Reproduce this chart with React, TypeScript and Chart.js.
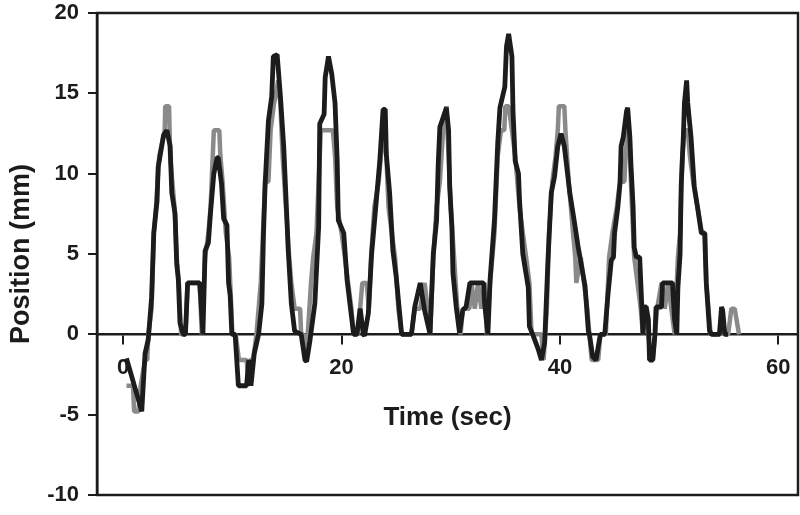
import React, { useEffect, useRef } from "react";
import { Chart, registerables } from "chart.js";

Chart.register(...registerables);

// Black trace (time in s, position in mm)
const blackTime = [
  0.3, 1.7, 2.0, 2.3, 2.6, 2.8, 3.1, 3.2, 3.7, 4.0, 4.3, 4.45, 4.75, 4.9, 5.05, 5.2, 5.5, 5.7, 5.9, 7.0,
  7.1, 7.3, 7.5, 7.8, 8.0, 8.3, 8.6, 8.7, 9.0, 9.2, 9.5, 9.65, 9.8, 9.95, 10.25, 10.55, 11.3, 11.5, 11.7, 12.0,
  12.4, 12.7, 12.85, 13.0, 13.3, 13.6, 13.75, 14.1, 14.4, 14.7, 15.0, 15.1, 15.4, 15.7, 16.3, 16.65, 16.8, 17.1, 17.55, 17.9,
  18.0, 18.4, 18.5, 18.8, 19.1, 19.4, 19.6, 19.7, 20.2, 20.5, 20.8, 21.1, 21.4, 21.7, 22.0, 22.1, 22.45, 22.75, 23.05, 23.5,
  23.8, 24.0, 24.1, 24.4, 24.7, 25.0, 25.5, 26.4, 26.7, 27.2, 27.6, 28.1, 28.4, 28.7, 28.85, 29.0, 29.3, 29.6, 29.8, 29.9,
  30.1, 30.2, 30.5, 30.8, 31.1, 31.4, 31.75, 33.0, 33.1, 33.4, 33.6, 34.0, 34.3, 34.5, 34.95, 35.1, 35.3, 35.6, 35.7, 35.9,
  36.2, 36.3, 36.6, 37.1, 37.2, 37.5, 38.0, 38.3, 38.6, 38.9, 39.2, 39.5, 39.8, 40.1, 40.4, 40.9, 41.3, 41.65, 42.3, 42.6,
  42.7, 43.0, 43.3, 43.6, 43.7, 44.1, 44.4, 44.7, 44.9, 45.0, 45.3, 45.5, 45.6, 45.8, 46.1, 46.2, 46.4, 46.5, 46.7, 46.8,
  47.0, 47.3, 47.5, 47.6, 47.75, 47.9, 48.1, 48.2, 48.5, 48.7, 48.8, 49.3, 49.4, 50.3, 50.5, 50.7, 50.8, 51.0, 51.1, 51.3,
  51.4, 51.6, 51.7, 52.0, 52.3, 52.6, 52.95, 53.25, 53.4, 53.55, 53.7, 53.9, 54.6, 54.8, 54.9, 55.1, 55.4,
];
const blackPos = [
  -1.5, -4.8, -1.2, -0.3, 2.3, 6.3, 8.3, 10.4, 12.4, 12.7, 11.7, 8.8, 7.5, 4.4, 3.4, 0.7, 0, 0, 3.2, 3.2,
  2.3, 0, 5.2, 5.7, 7.6, 10.0, 11.0, 11.0, 9.4, 7.2, 6.8, 3.2, 2.4, 0, 0, -3.2, -3.2, -1.6, -3.2, -1.2,
  0, 1.9, 6.3, 9.4, 13.3, 14.8, 17.3, 17.4, 14.8, 11.7, 7.1, 5.4, 1.9, 0.2, 0, -1.6, -1.7, -0.4, 1.9, 6.7,
  13.1, 13.7, 16.0, 17.3, 16.2, 14.4, 10.8, 7.1, 6.3, 3.4, 1.7, 0, 0, 1.6, 0, -0.1, 1.3, 5.0, 7.3, 10.8,
  14.0, 14.0, 11.2, 8.8, 5.2, 3.6, 0, 0, 1.7, 3.2, 1.5, 0, 5.0, 7.1, 10.6, 12.9, 13.5, 14.1, 12.7, 9.2,
  6.7, 3.8, 1.7, 0.1, 1.5, 1.7, 3.2, 3.2, 1.9, 0, 3.4, 7.1, 11.9, 14.1, 15.4, 17.9, 18.7, 17.3, 13.9, 10.8,
  10.0, 8.3, 5.0, 2.9, 0.5, 0, -0.9, -1.6, -0.5, 4.6, 8.8, 9.8, 11.7, 12.5, 11.7, 8.8, 7.1, 5.5, 3.0, 0.2,
  0, -1.4, -1.6, -0.4, 0, 0, 2.5, 4.6, 4.8, 6.3, 7.9, 9.4, 11.7, 12.3, 13.9, 14.1, 12.3, 10.6, 7.9, 5.4,
  4.8, 4.8, 1.7, 0, 1.7, 1.7, 0.9, -1.6, -1.6, 0, 1.7, 1.7, 3.2, 3.2, 0.9, 0, 2.9, 5.0, 9.2, 12.3,
  14.4, 15.8, 14.4, 12.3, 9.2, 7.9, 6.3, 6.3, 3.2, 1.7, 0.2, 0, 0, 1.7, 1.5, 0, 0,
];

// Gray trace (time in s, position in mm)
const grayTime = [
  0.3, 0.9, 1.0, 1.4, 1.6, 2.0, 2.2, 2.3, 2.6, 2.8, 3.0, 3.3, 3.8, 3.85, 4.2, 4.3, 4.5, 4.7, 4.9, 5.1,
  5.3, 5.7, 5.9, 7.0, 7.2, 7.5, 7.8, 8.0, 8.2, 8.3, 8.8, 8.9, 9.1, 9.4, 9.7, 9.9, 10.0, 10.3, 10.6, 11.3,
  11.5, 11.6, 11.9, 12.2, 12.6, 12.9, 13.0, 13.3, 13.5, 13.8, 14.2, 14.4, 14.6, 14.9, 15.2, 15.4, 15.7, 16.2, 16.3, 16.5,
  16.7, 16.9, 17.2, 17.4, 17.7, 17.9, 18.1, 18.5, 19.2, 19.4, 19.6, 20.0, 20.3, 20.6, 20.9, 21.1, 21.5, 21.7, 21.9, 22.3,
  22.5, 22.7, 23.0, 23.4, 23.6, 23.9, 24.1, 24.3, 24.6, 24.9, 25.2, 25.5, 26.4, 26.7, 27.2, 27.6, 27.9, 28.1, 28.4, 28.7,
  29.0, 29.3, 29.6, 29.8, 30.0, 30.3, 30.6, 30.9, 31.1, 31.7, 31.9, 32.2, 32.5, 32.8, 33.1, 33.3, 33.6, 34.0, 34.3, 34.6,
  34.9, 35.0, 35.3, 35.6, 35.9, 36.3, 36.6, 36.9, 37.2, 37.4, 38.3, 38.5, 38.8, 39.0, 39.3, 39.6, 39.8, 39.9, 40.4, 40.5,
  40.8, 41.0, 41.2, 41.4, 41.5, 41.9, 42.2, 42.5, 42.7, 42.9, 43.5, 43.7, 44.2, 44.5, 44.8, 45.2, 45.5, 45.9, 46.0, 46.2,
  46.4, 46.6, 46.8, 47.1, 47.4, 47.6, 47.8, 48.1, 48.3, 48.5, 48.7, 48.9, 49.3, 49.6, 49.9, 50.2, 50.5, 50.8, 51.0, 51.2,
  51.4, 51.7, 51.9, 52.2, 52.6, 53.0, 53.3, 53.4, 53.6, 53.8, 54.7, 54.8, 55.0, 55.4, 55.7, 56.0, 56.4,
];
const grayPos = [
  -3.2, -3.2, -4.8, -4.8, -3.2, -1.6, -1.6, 0, 1.6, 6.3, 7.9, 11.1, 12.7, 14.2, 14.2, 11.1, 9.5, 7.9, 4.8, 3.2,
  0, 0, 3.2, 3.2, 0, 4.8, 6.3, 7.9, 11.1, 12.7, 12.7, 11.1, 9.5, 6.3, 4.8, 1.6, 0, 0, -1.6, -1.6,
  -3.2, -1.6, -1.6, 0, 3.2, 7.9, 9.5, 9.5, 12.7, 14.3, 15.8, 14.3, 11.1, 7.9, 4.8, 3.2, 1.6, 1.6, 0, 0,
  -1.6, 0, 3.2, 4.8, 6.3, 9.5, 12.7, 12.7, 12.7, 11.1, 7.9, 6.3, 4.8, 3.2, 1.6, 0, 0, 1.6, 3.2, 3.2,
  1.6, 4.8, 7.9, 9.5, 11.1, 12.7, 11.1, 7.9, 6.3, 4.8, 1.6, 0, 0, 1.6, 1.6, 3.2, 1.6, 0, 4.8, 7.9,
  9.5, 12.7, 14.2, 11.1, 7.9, 4.8, 1.6, 0, 1.6, 1.6, 3.2, 1.6, 3.2, 1.6, 3.2, 0, 3.2, 6.3, 11.1, 12.7,
  12.7, 14.2, 14.2, 12.7, 11.1, 7.9, 6.3, 4.8, 3.2, 0, 0, -1.6, 1.6, 6.3, 9.5, 11.1, 12.7, 14.2, 14.2, 12.7,
  9.5, 7.9, 6.3, 4.8, 3.2, 4.8, 3.2, 1.6, 0, -1.6, -1.6, 0, 0, 4.8, 6.3, 7.9, 9.5, 9.5, 11.1, 12.7,
  11.1, 7.9, 4.8, 3.2, 1.6, 0, 1.6, 0, -1.6, -1.6, 0, 1.6, 3.2, 1.6, 3.2, 1.6, 0, 4.8, 6.3, 11.1,
  12.7, 12.7, 11.1, 9.5, 7.9, 6.3, 6.3, 3.2, 1.6, 0, 0, 1.6, 0, 0, 1.6, 1.6, 0,
];

const xTickValues = [0, 20, 40, 60];
const yTickValues = [-10, -5, 0, 5, 10, 15, 20];

const INK = "#1c1c1c";
const GRAY = "#8a8a8a";
const TICK_FAMILY = "'Liberation Sans', Arial, sans-serif";
const TITLE_FAMILY = "'Liberation Sans', Arial, sans-serif";

export default function App() {
  const ref = useRef<HTMLCanvasElement | null>(null);

  useEffect(() => {
    document.body.style.margin = "0";
    const canvas = ref.current;
    if (!canvas) return;

    const framePlugin = {
      id: "frame",
      afterDatasetsDraw(chart: any) {
        const { ctx, chartArea: a } = chart;
        ctx.save();
        ctx.strokeStyle = INK;
        ctx.lineWidth = 2.5;
        ctx.strokeRect(a.left, a.top, a.right - a.left, a.bottom - a.top);
        ctx.restore();
      },
    };

    const chart = new Chart(canvas, {
      type: "line",
      data: {
        datasets: [
          {
            label: "Gray",
            data: grayTime.map((t, i) => ({ x: t, y: grayPos[i] })),
            borderColor: GRAY,
            borderWidth: 4.5,
            pointRadius: 0,
            tension: 0,
            borderJoinStyle: "bevel",
            order: 2,
          },
          {
            label: "Black",
            data: blackTime.map((t, i) => ({ x: t, y: blackPos[i] })),
            borderColor: INK,
            borderWidth: 4.8,
            pointRadius: 0,
            tension: 0,
            borderJoinStyle: "bevel",
            order: 1,
          },
        ],
      },
      options: {
        responsive: false,
        animation: false,
        layout: { padding: { top: 13, right: 2, bottom: 20, left: 0 } },
        plugins: { legend: { display: false }, tooltip: { enabled: false } },
        scales: {
          x: {
            type: "linear",
            min: -2.4,
            max: 61.8,
            position: { y: 0 },
            afterBuildTicks: (s: any) => {
              s.ticks = xTickValues.map((v) => ({ value: v }));
            },
            afterFit: (s: any) => {
              s.paddingLeft = 0;
              s.paddingRight = 0;
            },
            ticks: {
              color: INK,
              font: { family: TICK_FAMILY, size: 22, weight: "bold" },
              padding: 11,
              maxRotation: 0,
            },
            grid: { drawOnChartArea: false, drawTicks: true, tickLength: 9, color: INK, lineWidth: 2 },
            border: { display: true, color: INK, width: 2.5 },
            title: {
              display: true,
              text: "Time (sec)",
              color: INK,
              font: { family: TITLE_FAMILY, size: 26, weight: "bold" },
              padding: { top: 10, bottom: 0 },
            },
          },
          y: {
            type: "linear",
            min: -10,
            max: 20,
            afterBuildTicks: (s: any) => {
              s.ticks = yTickValues.map((v) => ({ value: v }));
            },
            afterFit: (s: any) => {
              s.width = 97;
              s.paddingTop = 0;
              s.paddingBottom = 0;
            },
            ticks: {
              color: INK,
              font: { family: TICK_FAMILY, size: 22, weight: "bold" },
              padding: 9,
            },
            grid: { drawOnChartArea: false, drawTicks: true, tickLength: 9, color: INK, lineWidth: 2 },
            border: { display: true, color: INK, width: 2.5 },
            title: {
              display: true,
              text: "Position (mm)",
              color: INK,
              font: { family: TITLE_FAMILY, size: 27, weight: "bold" },
              padding: { top: 5, bottom: 0 },
            },
          },
        },
      },
      plugins: [framePlugin],
    } as any);

    return () => chart.destroy();
  }, []);

  return (
    <div style={{ width: 800, height: 515 }}>
      <canvas ref={ref} width={800} height={515} style={{ display: "block" }} />
    </div>
  );
}
